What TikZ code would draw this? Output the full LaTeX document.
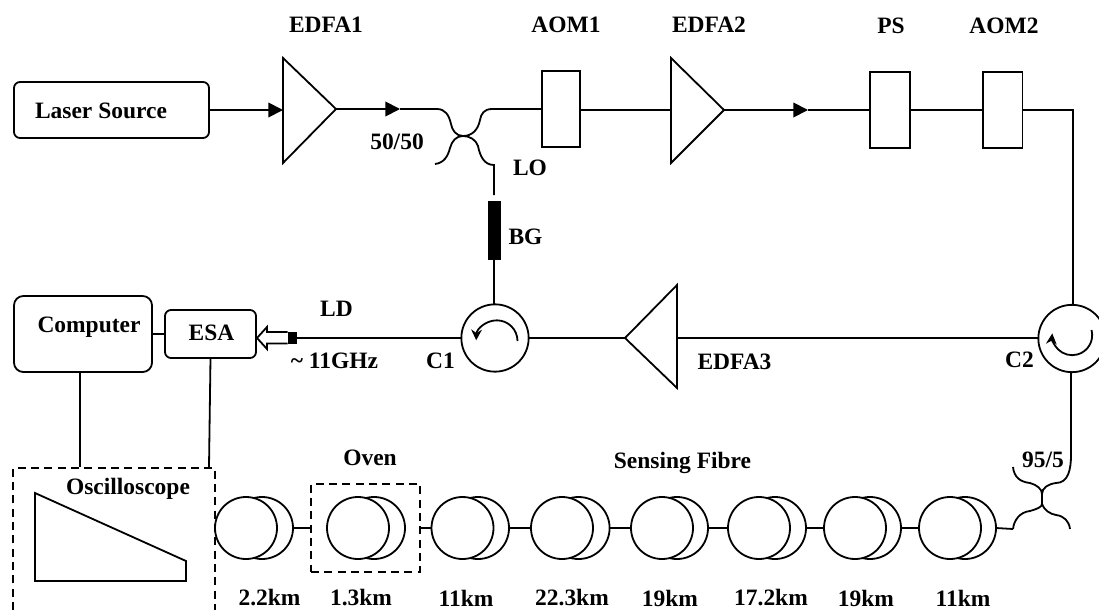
\documentclass[tikz,border=0pt]{standalone}
\usepackage{fontspec}
\setmainfont{Liberation Serif}
\usetikzlibrary{arrows.meta}
\tikzset{
  wire/.style={line width=1.35pt,line join=miter},
  head/.style={wire,-{Triangle[length=11pt,width=11pt]}},
  lab/.style={font=\fontsize{17.6}{19}\selectfont\bfseries,inner sep=0pt,outer sep=0pt},
  block/.style={draw,line width=1.35pt,fill=white,inner sep=0pt,outer sep=0pt},
  roundbox/.style={block,rounded corners=4.5pt},
  circul/.style={block,circle,minimum size=50.5pt},
  loopback/.style={block,circle,minimum size=46.5pt},
  loopfront/.style={block,circle,minimum size=46.5pt},
  dashbox/.style={line width=1.3pt,dash pattern=on 6pt off 4pt},
  spin/.style={line width=1.35pt,-{Stealth[length=8pt,width=8pt]}},
  amp/.style={line width=1.35pt,fill=white,line join=miter}
}
\begin{document}
\begin{tikzpicture}[x=0.75pt,y=-0.75pt]
\useasboundingbox (0,0) rectangle (1099,610);
\clip (0,0) rectangle (1099,610);

% boxes
\node[roundbox,minimum width=146.25pt,minimum height=42pt] (laser) at (111.5,110) {};
\node[roundbox,rounded corners=7pt,minimum width=103.5pt,minimum height=57pt] (computer) at (83,334) {};
\node[roundbox,minimum width=68.25pt,minimum height=36pt] (esa) at (210.5,334) {};
\node[block,minimum width=28.5pt,minimum height=57pt] (aomA) at (561,109) {};
\node[block,minimum width=30pt,minimum height=57pt] (ps) at (890,110) {};
\node[block,minimum width=29.6pt,minimum height=57pt] (aomB) at (1002.7,110) {};
\node[draw,fill=black,inner sep=0pt,minimum width=9pt,minimum height=43.5pt] (bg) at (494,230) {};
\node[circul] (cA) at (495,338) {};
\node[circul] (cB) at (1072,338.5) {};

% amplifiers
\coordinate (a1t) at (283,58); \coordinate (a1b) at (283,163); \coordinate (a1tip) at (336,109); \coordinate (a1in) at (283,110);
\coordinate (a2t) at (671,58); \coordinate (a2b) at (671,163); \coordinate (a2tip) at (724,110); \coordinate (a2in) at (671,110);
\coordinate (a3t) at (677,285); \coordinate (a3b) at (677,388); \coordinate (a3tip) at (625,338); \coordinate (a3in) at (677,338);
\draw[amp] (a1t) -- (a1tip) -- (a1b) -- cycle;
\draw[amp] (a2t) -- (a2tip) -- (a2b) -- cycle;
\draw[amp] (a3t) -- (a3tip) -- (a3b) -- cycle;

% upper line
\coordinate (hA) at (400,109);
\coordinate (hB) at (808,110);
\coordinate (xTL) at (437,109);
\coordinate (xTR) at (492,109);
\coordinate (xBL) at (435,164);
\coordinate (xBR) at (494,165);
\coordinate (xC) at (463,136);
\coordinate (vA) at (494,195);
\draw[head] (laser.east |- a1in) -- (a1in);
\draw[head] (a1tip) -- (hA);
\draw[wire] (hA) -- (xTL);
\draw[wire] (xTL) .. controls (445,109) and (449,115) .. (451,124) .. controls (452,130) and (456,136) .. (xC)
  .. controls (472,136) and (478,130) .. (480,120) .. controls (481,114) and (484,109) .. (xTR) -- (aomA.west |- xTR);
\draw[wire] (xBL) .. controls (444,163) and (448,156) .. (450,148) .. controls (452,141) and (456,136) .. (xC);
\draw[wire] (xC) .. controls (470,136) and (476,140) .. (478,146) .. controls (480,156) and (484,165) .. (xBR) -- (vA);
\draw[wire] (aomA.east |- a2in) -- (a2in);
\draw[head] (a2tip) -- (hB);
\draw[wire] (hB) -- (ps.west);
\draw[wire] (ps.east) -- (aomB.west);
\coordinate (corner) at (1073,110);
\draw[wire] (aomB.east) -- (corner) -- (corner |- cB.north);
\draw[wire] (bg.south) -- (cA.north -| bg.south);

% return line
\draw[wire] (cB.west |- a3in) -- (a3in);
\draw[wire] (a3tip) -- (cA.east |- a3tip);

% detector
\node[draw,fill=black,inner sep=0pt,minimum width=6pt,minimum height=8.25pt] (ld) at (292,338) {};
\draw[wire] (cA.west) -- (ld.east);
\coordinate (bt) at (257,338);
\draw[line width=1.35pt,fill=white,line join=miter] (ld.west |- 0,332) -- (267,332) -- (267,327) -- (bt) -- (267,349) -- (267,343.5) -- (ld.west |- 0,343.5);

% instrument links
\coordinate (oscA) at (80,467);
\coordinate (oscB) at (209,467);
\draw[wire] (computer.east) -- (esa.west);
\draw[wire] (computer.south -| oscA) -- (oscA);
\draw[wire] (esa.south) -- (oscB);

% oscilloscope
\draw[dashbox] (13,610) -- (13,468) -- (215,468) -- (215,610);
\draw[line width=1.35pt,line join=miter] (35,493) -- (186,561) -- (186,581) -- (35,581) -- cycle;

% oven
\node[draw,dashbox,inner sep=0pt,minimum width=81.75pt,minimum height=66pt] (oven) at (365.5,528) {};

% fibre spools
\foreach \n/\f/\b in {s1/246/262,s2/358/374,s3/462.5/478,s4/562/578.6,s5/662/677,s6/759/775,s7/855/870,s8/950/965}{
  \node[loopback] (\n b) at (\b,528) {};
  \node[loopfront] (\n f) at (\f,528) {};
}
\draw[wire] (s1b.east) -- (oven.west);
\draw[wire] (oven.east) -- (s3f.west);
\draw[wire] (s3b.east) -- (s4f.west);
\draw[wire] (s4b.east) -- (s5f.west);
\draw[wire] (s5b.east) -- (s6f.west);
\draw[wire] (s6b.east) -- (s7f.west);
\draw[wire] (s7b.east) -- (s8f.west);

% 95/5 coupler
\coordinate (yTL) at (1013,467);
\coordinate (yTR) at (1071,455);
\coordinate (yBL) at (1013,529);
\coordinate (yBR) at (1070,529);
\coordinate (yA) at (1042,494);
\coordinate (yB) at (1042,504);
\draw[wire] (s8b.east) -- (yBL);
\draw[wire] (cB.south -| yTR) -- (yTR) .. controls (1071,470) and (1068,483) .. (1056,483) .. controls (1048,484) and (1042,488) .. (yA) -- (yB);
\draw[wire] (yTL) .. controls (1014,477) and (1020,482) .. (1030,483) .. controls (1037,485) and (1042,489) .. (yA);
\draw[wire] (yBL) .. controls (1014,520) and (1020,512) .. (1030,511) .. controls (1037,509) and (1042,507) .. (yB);
\draw[wire] (yB) .. controls (1044,510) and (1050,514) .. (1056,515) .. controls (1064,516) and (1069,521) .. (yBR);

% circulator arrows
\coordinate (arcA) at (517.5,341);
\coordinate (arcB) at (1091.5,330);
\draw[spin] (arcA) arc[start angle=0,end angle=178,radius=15.5pt];
\draw[spin] (arcB) arc[start angle=15,end angle=-185,radius=15pt];

% labels
\node[lab] (tEA) at (326,25) {EDFA1};
\node[lab] (tAA) at (566,25) {AOM1};
\node[lab] (tEB) at (709,25) {EDFA2};
\node[lab] (tPS) at (891,26) {PS};
\node[lab] (tAB) at (1004,26) {AOM2};
\node[lab] (tLS) at (101,111) {Laser Source};
\node[lab] (tCP) at (397,142) {50/50};
\node[lab] (tLO) at (530,168) {LO};
\node[lab] (tBG) at (525.5,237) {BG};
\node[lab] (tCO) at (89,327) {Computer};
\node[lab] (tES) at (211.5,333) {ESA};
\node[lab] (tLD) at (336.5,309) {LD};
\node[lab] (tGH) at (334.5,361) {\textasciitilde{} 11GHz};
\node[lab] (tCA) at (440.5,361) {C1};
\node[lab] (tEC) at (734.5,361.5) {EDFA3};
\node[lab] (tCB) at (1019.5,360) {C2};
\node[lab] (tSF) at (682.5,463) {Sensing Fibre};
\node[lab] (tNF) at (1043,460) {95/5};
\node[lab] (tOV) at (370,458) {Oven};
\node[lab] (tOS) at (128,489) {Oscilloscope};
\node[lab] (k1) at (269.5,598) {2.2km};
\node[lab] (k2) at (361,598) {1.3km};
\node[lab] (k3) at (466,598) {11km};
\node[lab] (k4) at (572,598) {22.3km};
\node[lab] (k5) at (670,598) {19km};
\node[lab] (k6) at (771,598) {17.2km};
\node[lab] (k7) at (866,598) {19km};
\node[lab] (k8) at (963,598) {11km};
\end{tikzpicture}
\end{document}
